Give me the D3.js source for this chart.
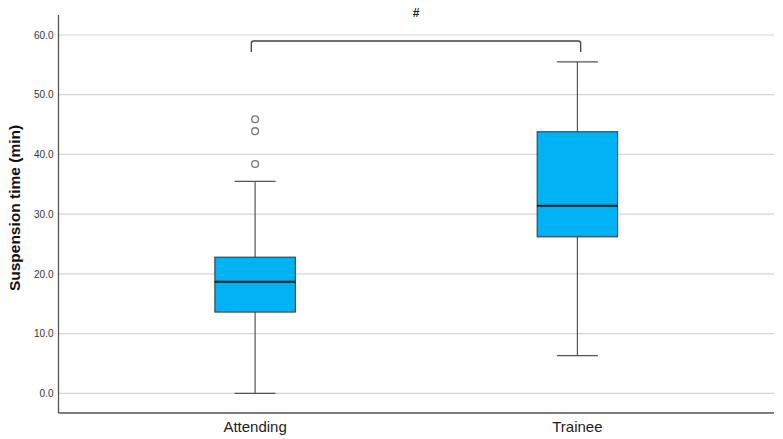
<!DOCTYPE html>
<html>
<head>
<meta charset="utf-8">
<script src="https://cdn.jsdelivr.net/npm/d3@7"></script>
<style>
  body { margin: 0; background: #fff; }
  text { font-family: "Liberation Sans", Arial, sans-serif; }
</style>
</head>
<body>
<div id="chart"></div>
<script>
// Box plot data
const groups = ["Attending", "Trainee"];
const whiskerLow = [0.0, 6.3];
const q1 = [13.6, 26.2];
const median = [18.7, 31.4];
const q3 = [22.8, 43.8];
const whiskerHigh = [35.5, 55.5];
const outliers = [[38.4, 43.9, 45.9], []];
const yTicks = [0, 10, 20, 30, 40, 50, 60];

const width = 783;
const height = 439;

const svg = d3.select("#chart")
    .append("svg")
    .attr("width", width)
    .attr("height", height);

const plotLeft = 58.5, plotRight = 774, plotTop = 15, plotBottom = 413;

const y = d3.scaleLinear()
    .domain([0, 60])
    .range([393.3, 35]);

const x = d3.scalePoint()
    .domain(groups)
    .range([plotLeft, plotRight])
    .padding(0.61);

// gridlines
svg.append("g")
    .selectAll("line")
    .data(yTicks)
    .join("line")
    .attr("x1", plotLeft)
    .attr("x2", plotRight)
    .attr("y1", d => y(d))
    .attr("y2", d => y(d))
    .attr("stroke", "#d4d4d4")
    .attr("stroke-width", 1.2);

// y axis
const yAxis = svg.append("g")
    .attr("transform", `translate(${plotLeft},0)`)
    .call(d3.axisLeft(y).tickValues(yTicks).tickFormat(d3.format(".1f")).tickSize(0).tickPadding(5));
yAxis.select(".domain").remove();
yAxis.selectAll("text")
    .attr("font-size", "10px")
    .attr("fill", "#333")
    .style("font-family", "'Liberation Sans', Arial, sans-serif");

// axis frame lines
svg.append("line")
    .attr("x1", plotLeft).attr("x2", plotLeft)
    .attr("y1", plotTop).attr("y2", plotBottom)
    .attr("stroke", "#555").attr("stroke-width", 1.3);
svg.append("line")
    .attr("x1", plotLeft).attr("x2", plotRight)
    .attr("y1", plotBottom).attr("y2", plotBottom)
    .attr("stroke", "#555").attr("stroke-width", 1.3);

// x axis labels
svg.append("g")
    .selectAll("text")
    .data(groups)
    .join("text")
    .attr("x", d => x(d))
    .attr("y", 432)
    .attr("text-anchor", "middle")
    .attr("font-size", "15px")
    .attr("fill", "#222")
    .text(d => d);

// y axis title
svg.append("text")
    .attr("transform", `translate(19.5,${208}) rotate(-90)`)
    .attr("text-anchor", "middle")
    .attr("font-size", "15.5px")
    .attr("font-weight", "bold")
    .attr("fill", "#111")
    .text("Suspension time (min)");

const boxW = 80.5, capW = 41;

groups.forEach((g, i) => {
    const cx = x(g);
    const box = svg.append("g");

    // whiskers
    box.append("line")
        .attr("x1", cx).attr("x2", cx)
        .attr("y1", y(whiskerLow[i])).attr("y2", y(q1[i]))
        .attr("stroke", "#555").attr("stroke-width", 1.2);
    box.append("line")
        .attr("x1", cx).attr("x2", cx)
        .attr("y1", y(q3[i])).attr("y2", y(whiskerHigh[i]))
        .attr("stroke", "#555").attr("stroke-width", 1.2);
    [whiskerLow[i], whiskerHigh[i]].forEach(v => {
        box.append("line")
            .attr("x1", cx - capW / 2).attr("x2", cx + capW / 2)
            .attr("y1", y(v)).attr("y2", y(v))
            .attr("stroke", "#555").attr("stroke-width", 1.2);
    });

    // box
    box.append("rect")
        .attr("x", cx - boxW / 2)
        .attr("y", y(q3[i]))
        .attr("width", boxW)
        .attr("height", y(q1[i]) - y(q3[i]))
        .attr("fill", "#00b2f3")
        .attr("stroke", "#333")
        .attr("stroke-width", 1);

    // median
    box.append("line")
        .attr("x1", cx - boxW / 2).attr("x2", cx + boxW / 2)
        .attr("y1", y(median[i])).attr("y2", y(median[i]))
        .attr("stroke", "#111").attr("stroke-width", 2);

    // outliers
    box.selectAll("circle")
        .data(outliers[i])
        .join("circle")
        .attr("cx", cx)
        .attr("cy", d => y(d))
        .attr("r", 3.4)
        .attr("fill", "#fff")
        .attr("stroke", "#777")
        .attr("stroke-width", 1.3);
});

// significance bracket
const bx1 = x(groups[0]) - 3.8, bx2 = x(groups[1]) + 3.3;
const by = 41, bTick = 11, rr = 2.5;
svg.append("path")
    .attr("d", `M${bx1},${by + bTick} L${bx1},${by + rr} Q${bx1},${by} ${bx1 + rr},${by} L${bx2 - rr},${by} Q${bx2},${by} ${bx2},${by + rr} L${bx2},${by + bTick}`)
    .attr("fill", "none")
    .attr("stroke", "#444")
    .attr("stroke-width", 1.3);

svg.append("text")
    .attr("x", (bx1 + bx2) / 2)
    .attr("y", 17)
    .attr("text-anchor", "middle")
    .attr("font-size", "12px")
    .attr("font-weight", "bold")
    .attr("fill", "#222")
    .text("#");
</script>
</body>
</html>
